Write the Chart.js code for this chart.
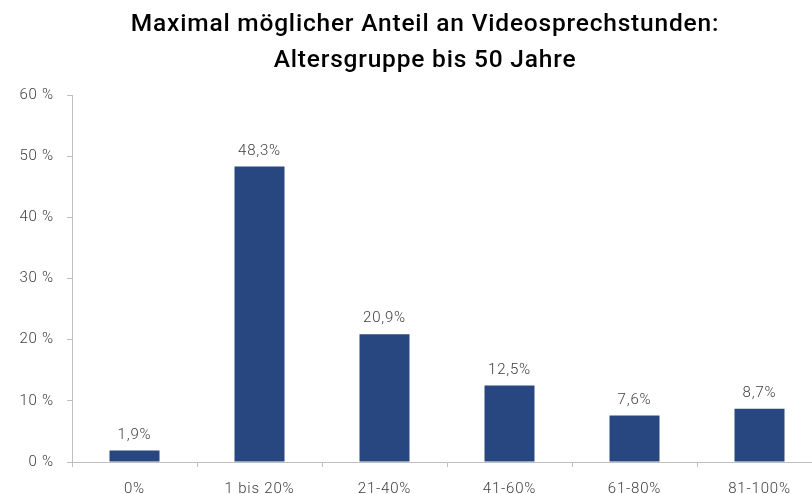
<!DOCTYPE html>
<html lang="de">
<head>
<meta charset="utf-8">
<title>Videosprechstunden – Altersgruppe bis 50 Jahre</title>
<script src="https://cdn.jsdelivr.net/npm/chart.js@4.4.1/dist/chart.umd.min.js"></script>
<style>
  html, body { margin: 0; padding: 0; background: #fff; overflow: hidden; }
  #wrap { width: 850px; height: 494px; }
</style>
</head>
<body>
<div id="wrap"><canvas id="chart"></canvas></div>
<script>
/* ── Data ─────────────────────────────────────────────── */
const categories = ['0%', '1 bis 20%', '21-40%', '41-60%', '61-80%', '81-100%'];
const shares     = [1.9, 48.3, 20.9, 12.5, 7.6, 8.7];
const yTicks     = [0, 10, 20, 30, 40, 50, 60];

const titleLines = [
  'Maximal möglicher Anteil an Videosprechstunden:',
  'Altersgruppe bis 50 Jahre',
];

/* ── Theme ────────────────────────────────────────────── */
const theme = {
  bar:   '#284680',
  axis:  '#bfbfbf',
  text:  '#404040',
  title: '#000000',
  font:  "Roboto, 'Open Sans', sans-serif",
  spacing: '0.8px',
};

// German decimal comma for the value labels
const fmt = (v) => v.toFixed(1).replace('.', ',') + '%';

// Slightly wider tracking for all chart text
const tracking = {
  id: 'tracking',
  beforeDraw(chart) { chart.ctx.letterSpacing = theme.spacing; },
  afterDraw(chart)  { chart.ctx.letterSpacing = '0px'; },
};

// Draws the value above every bar
const valueLabels = {
  id: 'valueLabels',
  afterDatasetsDraw(chart) {
    const { ctx } = chart;
    const meta = chart.getDatasetMeta(0);
    ctx.save();
    ctx.font = `300 15px ${theme.font}`;
    ctx.fillStyle = theme.text;
    ctx.textAlign = 'center';
    ctx.textBaseline = 'bottom';
    meta.data.forEach((bar, i) => {
      ctx.fillText(fmt(shares[i]), bar.x, bar.y - 8);
    });
    ctx.restore();
  },
};

const tickFont = { family: theme.font, size: 15, weight: '300' };

new Chart(document.getElementById('chart'), {
  type: 'bar',
  data: {
    labels: categories,
    datasets: [{
      data: shares,
      backgroundColor: theme.bar,
      borderWidth: 0,
      barPercentage: 0.4,
      categoryPercentage: 1.0,
    }],
  },
  options: {
    responsive: true,
    maintainAspectRatio: false,
    animation: false,
    plugins: {
      legend: { display: false },
      tooltip: { enabled: false },
      title: {
        display: true,
        text: titleLines,
        color: theme.title,
        font: { family: theme.font, size: 24.5, weight: '500', lineHeight: '36px' },
        padding: { top: 7, bottom: 16 },
      },
    },
    scales: {
      x: {
        offset: true,
        grid: {
          offset: true,
          drawOnChartArea: false,
          drawTicks: true,
          tickLength: 5,
          color: theme.axis,
        },
        border: { color: theme.axis, width: 1 },
        ticks: {
          color: theme.text,
          font: tickFont,
          padding: 13,
          maxRotation: 0,
        },
        afterFit: (axis) => { axis.height = 32; },
      },
      y: {
        min: 0,
        max: 60,
        afterBuildTicks: (axis) => { axis.ticks = yTicks.map(v => ({ value: v })); },
        grid: {
          drawOnChartArea: false,
          drawTicks: true,
          tickLength: 5,
          color: theme.axis,
        },
        border: { color: theme.axis, width: 1 },
        ticks: {
          color: theme.text,
          font: tickFont,
          padding: 13,
          callback: (v) => v + ' %',
        },
        afterFit: (axis) => { axis.width = 72; },
      },
      // empty spacer on the right so the plot ends short of the canvas edge
      spacer: {
        type: 'linear',
        position: 'right',
        grid: { display: false },
        border: { display: false },
        ticks: { display: false },
        afterFit: (axis) => { axis.width = 28; },
      },
    },
  },
  plugins: [tracking, valueLabels],
});
</script>
</body>
</html>
